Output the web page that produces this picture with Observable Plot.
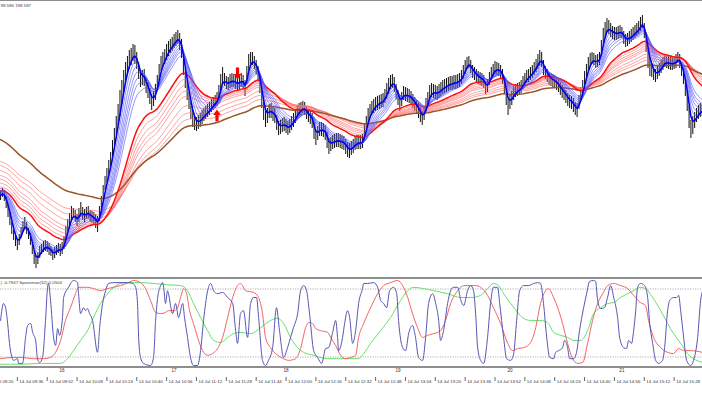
<!DOCTYPE html>
<html><head><meta charset="utf-8">
<script src="https://cdn.jsdelivr.net/npm/d3@7"></script>
<script src="https://cdn.jsdelivr.net/npm/@observablehq/plot@0.6"></script>
<style>
html,body{margin:0;padding:0;background:#fff;}
#wrap{position:relative;width:702px;height:395px;overflow:hidden;font-family:"Liberation Sans",Arial,sans-serif;background:#fff;}
#main{position:absolute;left:0;top:0;}
#sub{position:absolute;left:0;top:277px;}
.hline{position:absolute;left:0;width:702px;background:#8e8e8e;}
</style></head><body>
<div id="wrap">
 <div id="main"></div><div id="sub"></div>
 <div class="hline" style="top:0;height:1px"></div>
 <div class="hline" style="top:277px;height:2px"></div>
 <div class="hline" style="top:366px;height:2px"></div>
</div>
<script>
// ---- time axis (minutes after 14 Jul 09:20) ----
const xDomain = [6.97, 383.2];
const barStart = 7; // first M1 bar: 09:27
const timeTicks = [0,16,32,48,64,80,96,112,128,144,160,176,192,208,224,240,256,272,288,304,320,336,352,368];
const timeLabels = ["14 Jul 09:20","14 Jul 09:36","14 Jul 09:52","14 Jul 10:08","14 Jul 10:24","14 Jul 10:40","14 Jul 10:56","14 Jul 11:12","14 Jul 11:28","14 Jul 11:44","14 Jul 12:00","14 Jul 12:16","14 Jul 12:32","14 Jul 12:48","14 Jul 13:04","14 Jul 13:20","14 Jul 13:36","14 Jul 13:52","14 Jul 14:08","14 Jul 14:24","14 Jul 14:40","14 Jul 14:56","14 Jul 15:12","14 Jul 15:28"];
const hourTicks = [40,100,160,220,280,340];
const hourLabels = ["16","17","18","19","20","21"];

// ---- price bars (points above chart floor) ----
const high = [89,92,90,84,76,68,58,50,45,41,
46,53,59,63,58,52,47,38,29,24,
28,34,36,39,40,39,37,34,31,33,
35,37,36,38,44,54,61,67,74,72,
70,66,72,78,73,71,73,74,70,69,
68,66,64,74,84,95,104,112,120,128,
140,152,164,176,190,200,210,218,224,230,
232,236,235,228,218,208,210,211,203,198,
192,186,189,196,205,216,224,228,231,236,
239,241,243,246,248,250,247,241,225,212,
199,188,178,170,165,163,165,167,170,172,
174,176,178,181,183,185,188,195,206,213,
207,204,203,206,207,206,204,203,205,207,
205,200,214,226,228,228,224,220,214,204,
190,178,169,172,176,177,174,172,165,159,
160,162,163,161,159,161,164,167,171,175,
177,178,179,178,174,171,170,167,158,150,
154,158,158,157,155,148,142,143,145,146,
147,147,146,145,144,141,138,137,139,141,
144,145,145,145,146,156,164,172,176,179,
181,183,184,185,186,187,191,197,202,205,
206,203,196,190,183,188,194,193,192,191,
189,186,183,180,177,173,169,174,182,188,
195,197,196,195,194,196,198,200,201,202,
203,204,204,205,205,206,207,210,215,220,
223,224,220,215,213,211,209,208,207,205,
199,201,208,213,216,219,218,217,215,211,
203,192,181,185,189,194,196,197,198,200,
204,207,210,211,213,215,218,221,226,230,
228,220,214,211,208,207,206,205,203,201,
198,195,193,190,187,185,184,182,178,177,
185,193,200,209,216,223,227,228,227,225,
226,228,240,252,258,262,260,257,254,253,
253,254,255,253,249,246,247,249,251,253,
255,257,259,263,265,257,246,232,222,217,
213,211,214,217,220,223,226,225,224,223,
223,224,226,228,226,218,212,202,189,174,
160,164,168,172,175,177,176];
const low = [80,83,79,72,63,55,46,40,34,30,
35,42,49,52,46,41,35,26,16,12,
16,22,26,28,29,28,25,24,20,22,
25,27,24,26,31,41,49,54,59,62,
58,54,58,63,60,58,61,62,58,57,
55,52,48,59,70,81,90,98,106,114,
124,134,145,155,164,176,188,200,207,211,
215,219,216,211,201,193,195,194,187,182,
176,170,174,180,189,200,209,213,216,220,
224,227,229,232,234,236,230,222,205,192,
180,171,161,153,150,149,151,153,156,159,
161,163,165,168,170,172,174,179,188,196,
194,191,190,192,193,193,191,189,191,193,
192,184,196,210,215,215,211,206,199,187,
172,160,153,157,162,162,159,157,150,145,
146,148,149,147,145,147,150,153,157,161,
164,165,167,165,161,158,156,152,141,135,
140,144,144,143,140,132,126,129,131,132,
133,133,132,131,130,126,123,122,125,127,
130,131,131,131,132,140,148,157,162,165,
167,169,170,171,172,173,177,181,186,191,
192,188,181,175,169,174,180,179,178,177,
175,172,169,166,162,158,155,160,168,174,
181,183,182,181,180,182,184,186,187,188,
189,190,190,191,191,192,193,196,201,206,
211,212,207,202,200,198,196,195,194,192,
186,188,195,200,203,206,205,204,202,196,
186,175,165,171,175,180,183,184,185,187,
191,194,197,198,200,202,205,208,211,214,
213,205,201,198,195,194,193,192,190,188,
185,182,180,177,174,172,171,168,165,163,
171,179,186,195,202,209,213,216,215,212,
213,215,224,236,243,248,246,243,241,240,
240,241,242,242,236,233,234,236,238,240,
242,244,246,249,252,242,228,212,204,203,
200,198,201,204,207,210,213,212,211,210,
210,211,212,217,212,204,196,184,169,152,
142,146,152,158,161,163,164];

// ---- moving averages: periods and values at the left edge ----
const bluePeriods = [5, 7, 9, 11, 13, 16];
const blueSeeds   = [87, 88, 89, 90, 91, 93];
const blueMainPeriod = 3,  blueMainSeed = 86;
const redPeriods  = [35, 40, 45, 50, 60, 70, 80];
const redSeeds    = [94, 98, 102, 106, 111, 116, 120];
const redMainPeriod = 30,  redMainSeed = 90;
const brownPeriod = 100,   brownSeed = 142;

// ---- signal arrows ----
const signalT = [123, 134];
const signalPrice = [159, 213];
const signalDir = ["up", "down"];

// ---- Spearman panel: [minute, value] ----
const levels = [0.8, -0.8];
const spearLabel = ") -0.7947 Spearman(32) 0.0504";
const priceLabel = "98.586 198.587";
const spearFast = [[7,0.06],[8.6,0.46],[9.7,0.36],[10.8,-0.01],[11.8,-0.48],[13.4,-0.84],[14,-0.88],[16.1,-0.84],[16.6,-0.95],[18.8,-0.95],[20.4,-0.34],[21.5,-0.06],[23.1,-0.01],[24.2,-0.22],[25.8,-0.41],[26.8,-0.84],[27.9,-0.93],[29.5,-0.81],[31.1,0.06],[32.2,0.84],[32.7,0.93],[33.8,0.53],[35.4,-0.34],[36.5,-0.53],[37.6,-0.13],[38.6,-0.29],[40.2,0.13],[40.8,0.6],[43.4,0.84],[46.1,1],[48.3,0.95],[48.8,0.69],[49.9,0.22],[51.5,0.36],[52.6,0.29],[53.6,0.34],[54.7,0.22],[56.3,0.06],[59,-0.69],[60.1,-0.11],[61.7,0.46],[63.3,0.76],[64.9,0.93],[67.6,0.95],[75.1,0.95],[77.8,0.93],[79.4,0.84],[80.4,0.46],[81,-0.34],[82,-0.81],[83.6,-0.95],[87.4,-1],[89,-0.81],[90.1,0.06],[91.2,0.6],[92.8,0.88],[93.8,0.95],[94.4,0.84],[95.4,0.46],[96.5,0.76],[97,0.69],[99.2,0.22],[100.8,0.46],[102.4,0.13],[104.6,0.46],[105.6,0.13],[107.2,-0.34],[108.8,-0.81],[110.4,-1],[112.6,-1],[114.2,-0.65],[115.8,0.06],[118,0.76],[119.6,0.93],[121.2,0.76],[123.3,0.69],[126,0.72],[128.7,0.6],[131.4,0.46],[133,-0.18],[134,-0.48],[135.6,0.22],[137.2,0.29],[139.4,-0.34],[141,0.46],[142.6,0.6],[144.2,0.6],[145.3,0.13],[147.4,-0.88],[149,-1],[150.6,-0.88],[152.8,-0.58],[154.9,0.36],[156.5,-0.18],[158.7,-0.81],[160.8,-0.58],[162.4,-0.34],[164,-0.11],[166.2,0.22],[167.8,0.76],[169.4,0.88],[171,0.76],[172.6,0.22],[174.8,-0.65],[176.9,-0.81],[179.1,-0.95],[181.2,-0.6],[182.8,-0.58],[185,-0.22],[186.6,0.06],[187.6,-0.34],[188.2,-0.65],[190.3,-0.34],[191.4,-0.01],[193,0.29],[194.1,0.13],[195.7,-0.48],[197.3,-0.18],[198.9,0.46],[201,0.81],[201.6,0.93],[203.7,0.93],[207,0.95],[209.1,0.84],[210.7,0.53],[212.3,0.46],[213.9,0.36],[215.5,0.76],[217.6,0.84],[219.3,0.69],[220.3,0.06],[222.5,-0.58],[224.1,-0.65],[225.7,-0.25],[227.8,-0.06],[229.4,-0.34],[231,-0.81],[233.2,-0.88],[234.8,-0.34],[236.4,0.46],[238.6,0.69],[240.2,0.46],[241.8,0.06],[242.8,-0.41],[244.4,-0.18],[246.6,0.46],[248.2,0.76],[249.8,0.84],[252,0.84],[253.6,0.55],[255.2,0.41],[257.3,0.76],[258.9,0.88],[260.5,0.76],[261.6,0.22],[262.7,-0.58],[264.3,-0.88],[265.9,-0.95],[268,-0.34],[269.6,0.46],[271.2,0.84],[273.4,0.84],[274.5,0.46],[276.6,-0.34],[278.2,-0.84],[280.4,-0.88],[282,-0.72],[283.6,0.06],[285.2,0.76],[287.3,0.88],[290,0.88],[292.7,0.93],[294.8,0.95],[296.4,0.93],[298,0.46],[299.7,-0.34],[301.3,-0.81],[303.4,-0.84],[304.5,-0.69],[306.1,-0.65],[308.2,-0.58],[309.3,-0.41],[310.9,-0.58],[312,-0.84],[314.1,-0.84],[315.7,-0.69],[317.3,-0.18],[319.5,0.36],[321.1,0.69],[322.7,0.98],[324.8,1],[325.9,0.98],[327,0.53],[328.6,0.34],[330.7,0.36],[332.3,0.6],[334,0.88],[335.6,0.6],[337.7,0.13],[338.8,-0.34],[340.9,-0.58],[342.5,-0.6],[343.6,-0.41],[345.2,-0.48],[346.3,-0.18],[347.4,0.29],[348.4,0.84],[350,0.93],[352.2,0.88],[353.8,0.6],[354.9,-0.01],[356.5,-0.48],[358.1,-0.88],[359.7,-0.95],[361.8,-0.88],[362.9,-0.58],[364.5,0.29],[365.6,0.53],[367.7,0.6],[369.3,0.6],[370.4,0.65],[371.5,0.29],[373.1,-0.34],[374.7,-0.88],[376.8,-1],[378.4,-0.88],[380.6,-0.34],[382.2,0.53],[383.2,0.75]];
const spearMid = [[7,-0.84],[14,-0.81],[17.7,-0.81],[24.7,-0.84],[30,-0.84],[33.8,-0.81],[36.5,-0.69],[39.2,-0.41],[41.8,0.06],[44.5,0.36],[47.2,0.69],[48.8,0.84],[53.6,0.84],[56.8,0.81],[60.6,0.76],[64.4,0.81],[67.6,0.84],[71.3,0.88],[75.6,0.95],[78.3,1],[82,0.95],[84.7,0.81],[87.4,0.53],[90.1,0.25],[92.8,0.22],[95.4,0.25],[97,0.29],[99.7,0.29],[101.9,0.36],[103.5,0.6],[105.1,0.81],[106.7,0.69],[108.3,0.29],[110.4,-0.01],[112.6,-0.34],[115.3,-0.65],[118,-0.76],[120.6,-0.72],[123.3,-0.6],[126,-0.34],[128.7,0.13],[131.4,0.6],[134,0.88],[135.6,0.93],[138.3,0.76],[142.6,0.72],[145.3,0.6],[147.4,0.22],[149,-0.34],[151.7,-0.58],[155.5,-0.76],[158.7,-0.84],[161.4,-0.88],[165.1,-0.84],[167.8,-0.6],[170.5,-0.11],[172.1,0.01],[174.2,-0.01],[175.8,-0.13],[178.5,-0.18],[182.3,-0.22],[183.9,-0.34],[186.6,-0.53],[189.2,-0.76],[191.9,-0.84],[194.6,-0.81],[197.3,-0.76],[198.9,-0.34],[201.6,-0.01],[205.3,0.36],[209.1,0.69],[212.3,0.88],[216,0.95],[219.8,1],[222.5,0.88],[225.2,0.6],[227.8,0.22],[230.5,-0.11],[233.2,-0.34],[235.9,-0.29],[239.1,-0.25],[242.8,-0.18],[245.5,0.06],[248.2,0.46],[252,0.76],[255.2,0.88],[261.6,0.88],[264.3,0.84],[268,0.65],[271.2,0.36],[275,-0.01],[278.8,-0.48],[281.4,-0.65],[284.1,-0.6],[287.3,-0.58],[291.1,-0.46],[293.8,-0.11],[296.4,0.46],[299.1,0.76],[300.7,0.81],[303.4,0.6],[305.6,0.36],[308.2,-0.01],[310.9,-0.48],[313.6,-0.84],[316.3,-0.95],[319,-0.93],[321.6,-0.48],[324.3,0.06],[327,0.46],[329.7,0.69],[332.4,0.88],[335.6,0.93],[339.3,0.88],[343.1,0.81],[346.3,0.65],[350,0.48],[352.7,0.41],[354.3,0.06],[357,-0.34],[360.8,-0.58],[364.5,-0.69],[367.7,-0.72],[370.4,-0.6],[373.1,-0.65],[376.8,-0.65],[383.2,-0.69]];
const spearSlow = [[7,-0.97],[17.7,-0.97],[28.4,-0.95],[39.2,-0.95],[42.9,-0.84],[46.1,-0.65],[49.9,-0.41],[53.6,-0.18],[56.8,0.13],[60.6,0.46],[64.4,0.69],[67.6,0.84],[71.3,0.93],[75.1,0.95],[82,0.95],[89,0.93],[96.5,0.9],[103.5,0.88],[107.2,0.76],[110.4,0.46],[114.2,0.13],[118,-0.18],[121.2,-0.41],[124.9,-0.46],[128.7,-0.34],[131.9,-0.25],[135.6,-0.22],[141,-0.25],[146.4,-0.11],[151.7,0.06],[155.5,0.11],[158.7,-0.01],[162.4,-0.34],[166.2,-0.58],[169.4,-0.69],[174.8,-0.76],[182.3,-0.84],[189.2,-0.84],[198.4,-0.84],[201.6,-0.72],[205.3,-0.48],[210.7,-0.18],[216,0.13],[221.4,0.53],[225.2,0.76],[228.4,0.84],[233.7,0.81],[239.1,0.76],[246.6,0.69],[253.6,0.6],[258.9,0.6],[264.3,0.65],[268,0.81],[271.2,0.93],[273.9,0.88],[276.6,0.69],[280.4,0.46],[284.1,0.25],[287.3,0.11],[291.1,0.06],[296.4,0.06],[300.2,0.01],[303.4,-0.22],[307.2,-0.29],[310.9,-0.34],[314.1,-0.41],[317.9,-0.41],[321.6,-0.18],[324.8,0.22],[328.6,0.36],[332.4,0.46],[335.6,0.48],[339.3,0.6],[343.1,0.69],[346.3,0.76],[350,0.84],[352.7,0.81],[356.5,0.6],[360.8,0.29],[364.5,-0.01],[367.7,-0.25],[371.5,-0.48],[375.2,-0.72],[378.4,-0.84],[383.2,-0.93]];

// ---- derived tables ----
const bars = high.map((h, i) => ({t: barStart + i, high: h, low: low[i]}));
const median = bars.map(b => (b.high + b.low) / 2);
function ema(period, seed) {
  const a = 2 / (period + 1); let e = seed;
  return median.map((v, i) => ({t: barStart + i, v: (e += a * (v - e)), p: period}));
}
const blueThin = bluePeriods.flatMap((p, k) => ema(p, blueSeeds[k]));
const blueMain = ema(blueMainPeriod, blueMainSeed);
const redThin = redPeriods.flatMap((p, k) => ema(p, redSeeds[k]));
const redMain = ema(redMainPeriod, redMainSeed);
const brownLine = ema(brownPeriod, brownSeed);
const signals = signalT.map((t, i) => ({t, price: signalPrice[i], dir: signalDir[i]}));

const blockArrow = {
  draw(ctx, l) {
    ctx.moveTo(-1.6, 0); ctx.lineTo(-1.6, -l + 5.5); ctx.lineTo(-3.8, -l + 5.5);
    ctx.lineTo(0, -l); ctx.lineTo(3.8, -l + 5.5); ctx.lineTo(1.6, -l + 5.5);
    ctx.lineTo(1.6, 0); ctx.closePath();
  }
};

const main = Plot.plot({
  width: 702, height: 277, margin: 0,
  style: {background: "transparent", fontFamily: "Liberation Sans, Arial, sans-serif"},
  x: {domain: xDomain, axis: null},
  y: {domain: [3, 280], axis: null},
  marks: [
    Plot.ruleX(bars, {x: "t", y1: "low", y2: "high", stroke: "#111", strokeWidth: 1}),
    Plot.line(redThin, {x: "t", y: "v", z: "p", stroke: "#ff6e6e", strokeWidth: 0.65}),
    Plot.line(brownLine, {x: "t", y: "v", stroke: "#9b5426", strokeWidth: 1.5}),
    Plot.line(redMain, {x: "t", y: "v", stroke: "#ff1010", strokeWidth: 1.5}),
    Plot.line(blueThin, {x: "t", y: "v", z: "p", stroke: "#5a5aff", strokeWidth: 0.65}),
    Plot.line(blueMain, {x: "t", y: "v", stroke: "#0000f0", strokeWidth: 1.6}),
    Plot.vector(signals, {x: "t", y: "price", length: 12, rotate: d => d.dir === "up" ? 0 : 180,
      anchor: "start", shape: blockArrow, fill: "#ff0000", stroke: "none"}),
    Plot.text([priceLabel], {text: d => d, frameAnchor: "top-left", dy: 3, fontSize: 4.4, fill: "#444"})
  ]
});
document.getElementById("main").append(main);

const sub = Plot.plot({
  width: 702, height: 118, marginTop: 3, marginBottom: 30, marginLeft: 0, marginRight: 0,
  style: {background: "transparent", color: "#333", fontFamily: "Liberation Sans, Arial, sans-serif"},
  x: {domain: xDomain},
  y: {domain: [-1, 1], axis: null},
  marks: [
    Plot.ruleY(levels, {stroke: "#9a9a9a", strokeDasharray: "1.2,1.3", strokeWidth: 0.8}),
    Plot.line(spearSlow, {x: d => d[0], y: d => d[1], stroke: "#66e066", strokeWidth: 1, curve: "monotone-x"}),
    Plot.line(spearMid, {x: d => d[0], y: d => d[1], stroke: "#f26464", strokeWidth: 1, curve: "monotone-x"}),
    Plot.line(spearFast, {x: d => d[0], y: d => d[1], stroke: "#5656b4", strokeWidth: 1, curve: "monotone-x"}),
    Plot.text([spearLabel], {text: d => d, frameAnchor: "top-left", fontSize: 4.4, fill: "#444"}),
    Plot.text(hourTicks, {x: d => d, text: (d, i) => hourLabels[i], frameAnchor: "bottom", lineAnchor: "middle", dy: 5.5, fontSize: 4.6, fill: "#333"}),
    Plot.axisX({ticks: timeTicks, tickSize: 4, tickFormat: () => "", dy: 12, label: null, stroke: "#666"}),
    Plot.axisX({ticks: timeTicks, tickSize: 0, tickPadding: 0, tickFormat: d => timeLabels[timeTicks.indexOf(d)],
      textAnchor: "start", dx: 2, dy: 14, fontSize: 4.4, label: null})
  ]
});
document.getElementById("sub").append(sub);
</script>
</body></html>
